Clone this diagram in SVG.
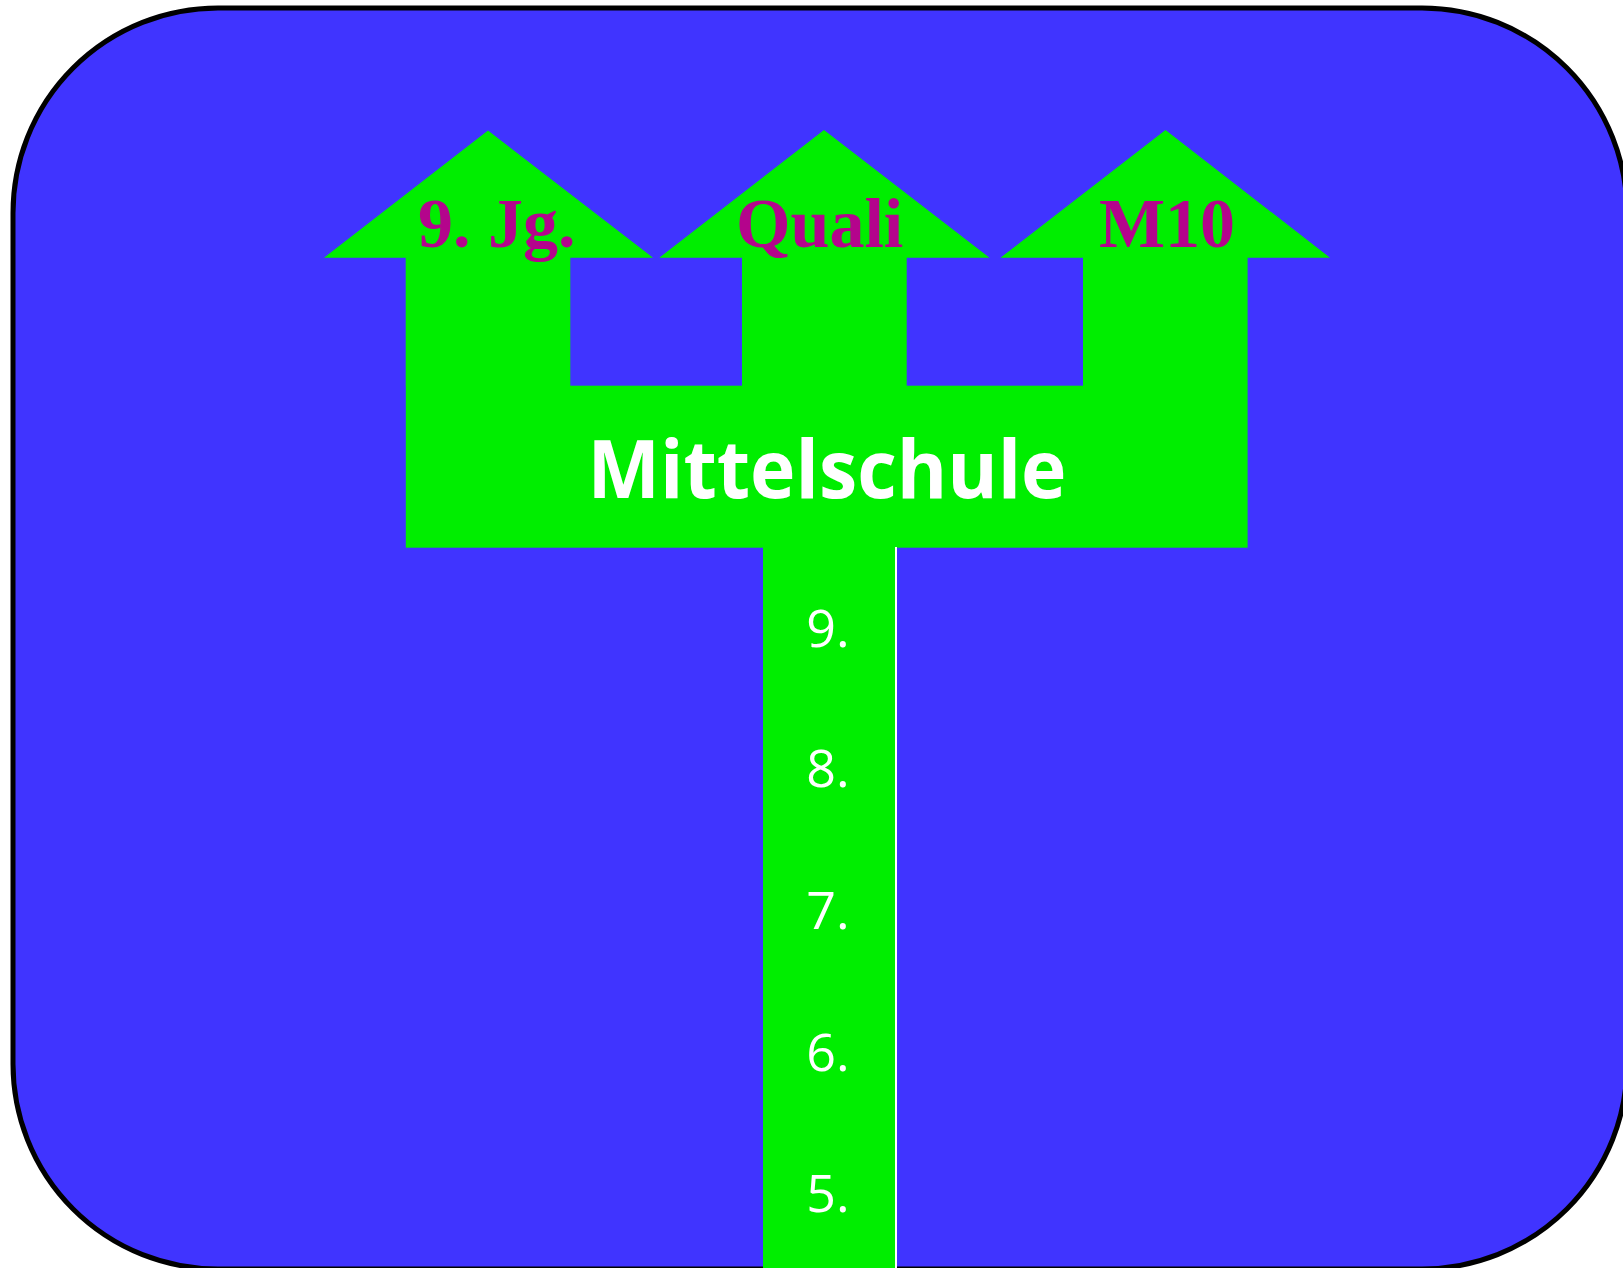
<svg xmlns="http://www.w3.org/2000/svg" width="1623" height="1268" viewBox="0 0 1623 1268">
<style>
.g{fill:#00EE00}
.lbl{font-family:"Liberation Serif","Times New Roman",serif;font-weight:700;font-size:70px;fill:#B4048C}
.num{font-family:"Open Sans",Lato,sans-serif;font-size:52px;fill:#FFFFFF;text-anchor:middle}
.main{font-family:"Open Sans",Lato,sans-serif;font-weight:700;font-size:80px;fill:#FFFFFF;text-anchor:middle}
</style>
<rect x="13" y="8" width="1614" height="1261" rx="205" ry="205" fill="#4034FF" stroke="#000" stroke-width="5"/>
<g id="arrow-9jg">
<polygon class="g" points="488,130.5 324,257.7 405.7,257.7 405.7,386 570.3,386 570.3,257.7 653,257.7"/>
<text class="lbl" x="418" y="246.5">9. Jg.</text>
</g>
<g id="arrow-quali">
<polygon class="g" points="824,130 659.3,257.7 742,257.7 742,386 906.7,386 906.7,257.7 989.5,257.7"/>
<text class="lbl" x="736" y="246.5">Quali</text>
</g>
<g id="arrow-m10">
<polygon class="g" points="1165.5,130 1000.5,257.7 1083,257.7 1083,386 1247.6,386 1247.6,257.7 1330,257.7"/>
<text class="lbl" x="1099" y="246.5">M10</text>
</g>
<g id="mittelschule">
<rect class="g" x="405.8" y="385.7" width="841.8" height="162"/>
<text class="main" x="827" y="497.7" textLength="479" lengthAdjust="spacingAndGlyphs">Mittelschule</text>
</g>
<g id="grades">
<rect class="g" x="763" y="547" width="132" height="721"/>
<rect x="895" y="547" width="2" height="721" fill="#FFFFFF"/>
<text class="num" x="828" y="647.3">9.</text>
<text class="num" x="828" y="787.3">8.</text>
<text class="num" x="828" y="929">7.</text>
<text class="num" x="828" y="1070.5">6.</text>
<text class="num" x="828" y="1211.7">5.</text>
</g>
<g id="connectors"/>
</svg>
